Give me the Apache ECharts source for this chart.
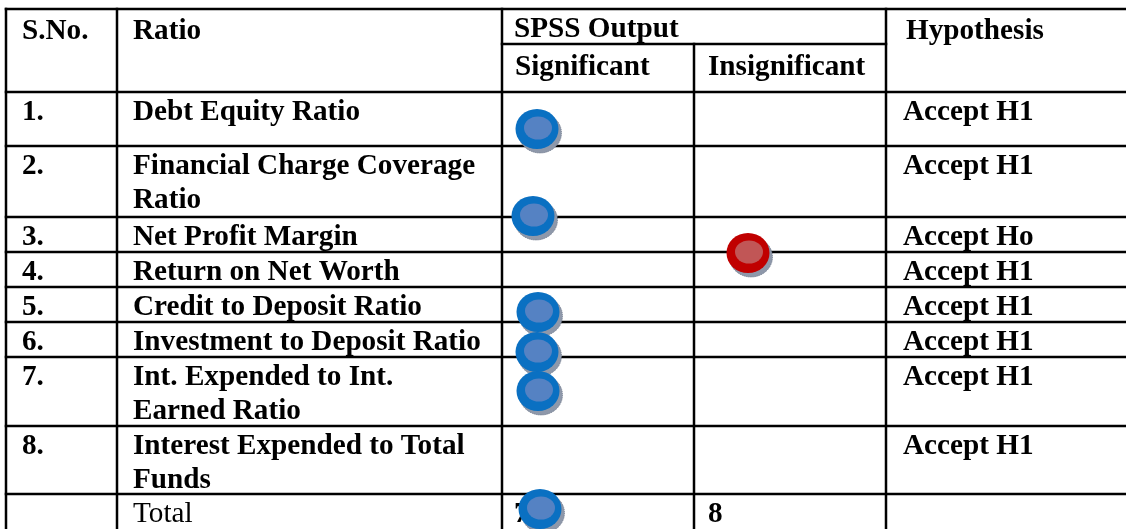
<!DOCTYPE html>
<html lang="en">
<head>
<meta charset="UTF-8">
<title>SPSS Output</title>
<script src="https://cdn.jsdelivr.net/npm/echarts@6/dist/echarts.min.js"></script>
<style>
    html, body { margin: 0; padding: 0; background: #fff; }
    #chart { width: 1126px; height: 529px; }
</style>
</head>
<body>
<div id="chart"></div>
<script>
    // table content
    const serialNos = ['1.', '2.', '3.', '4.', '5.', '6.', '7.', '8.'];
    const ratios = [
        ['Debt Equity Ratio'],
        ['Financial Charge Coverage', 'Ratio'],
        ['Net Profit Margin'],
        ['Return on Net Worth'],
        ['Credit to Deposit Ratio'],
        ['Investment to Deposit Ratio'],
        ['Int. Expended to Int.', 'Earned Ratio'],
        ['Interest Expended to Total', 'Funds']
    ];
    const hypotheses = ['Accept H1', 'Accept H1', 'Accept Ho', 'Accept H1', 'Accept H1', 'Accept H1', 'Accept H1', 'Accept H1'];
    const headers = ['S.No.', 'Ratio', 'SPSS Output', 'Significant', 'Insignificant', 'Hypothesis'];
    const totalRow = ['Total', '7', '8'];

    // circle marks, [x, y] on the page-space axes
    const significantMarks = [[537, 129], [533, 216], [538, 312], [537, 352], [538, 391], [540, 509]];
    const insignificantMarks = [[748, 253]];

    // layout of the grid (page-space units)
    const colEdges = [6, 117, 502, 694, 886, 1126];
    const rowEdges = [9, 92, 146, 217, 252, 287, 322, 357, 426, 494, 529];
    const subHeadY = 44;
    const lineGap = 34;
    const font = '"Liberation Serif", "Times New Roman", serif';

    // grid lines
    const segments = [];
    rowEdges.slice(0, -1).forEach(y => segments.push([colEdges[0], y, colEdges[5], y]));
    segments.push([colEdges[2], subHeadY, colEdges[4], subHeadY]);
    [0, 1, 2, 4].forEach(i => segments.push([colEdges[i], rowEdges[0], colEdges[i], 529]));
    segments.push([colEdges[3], subHeadY, colEdges[3], 529]);

    // text items: [x, y, text, bold]
    const texts = [];
    texts.push([colEdges[0] + 16, 31, headers[0], true]);
    texts.push([colEdges[1] + 16, 31, headers[1], true]);
    texts.push([colEdges[2] + 12, 29, headers[2], true]);
    texts.push([colEdges[2] + 13, 67, headers[3], true]);
    texts.push([colEdges[3] + 14, 67, headers[4], true]);
    texts.push([colEdges[4] + 20, 31, headers[5], true]);
    serialNos.forEach((s, i) => {
        const top = rowEdges[i + 1];
        texts.push([colEdges[0] + 16, top + 20, s, true]);
        ratios[i].forEach((t, k) => texts.push([colEdges[1] + 16, top + 20 + k * lineGap, t, true]));
        texts.push([colEdges[4] + 17, top + 20, hypotheses[i], true]);
    });
    const totalTop = rowEdges[9];
    texts.push([colEdges[1] + 16, totalTop + 20, totalRow[0], false]);
    texts.push([colEdges[2] + 12, totalTop + 20, totalRow[1], true]);
    texts.push([colEdges[3] + 14, totalTop + 20, totalRow[2], true]);

    function ellipse(cx, cy, rx, ry, style) {
        return {type: 'circle', x: cx, y: cy, scaleY: ry / rx, shape: {cx: 0, cy: 0, r: rx}, style: style};
    }

    function markRenderer(outer, inner) {
        return function (params, api) {
            const c = api.coord([api.value(0), api.value(1)]);
            return {
                type: 'group', x: c[0], y: c[1],
                children: [
                    ellipse(3, 4, 21.5, 20, {fill: '#8e98aa', stroke: '#6c7689', lineWidth: 1, lineDash: [1, 1]}),
                    ellipse(0, 0, 21.5, 20, {fill: outer}),
                    ellipse(1, -1, 14, 11.5, {fill: inner})
                ]
            };
        };
    }

    var chart = echarts.init(document.getElementById('chart'));
    chart.setOption({
        backgroundColor: '#fff',
        animation: false,
        grid: {left: 0, right: 0, top: 0, bottom: 0},
        xAxis: {type: 'value', min: 0, max: 1126, show: false},
        yAxis: {type: 'value', min: 0, max: 529, inverse: true, show: false},
        series: [
            {
                type: 'custom', z: 1, silent: true,
                encode: {x: [0, 2], y: [1, 3]},
                data: segments,
                renderItem: function (params, api) {
                    const p1 = api.coord([api.value(0), api.value(1)]);
                    const p2 = api.coord([api.value(2), api.value(3)]);
                    return {
                        type: 'line',
                        shape: {x1: p1[0], y1: p1[1], x2: p2[0], y2: p2[1]},
                        style: {stroke: '#000', lineWidth: 2.5, lineCap: 'square'}
                    };
                }
            },
            {
                type: 'custom', z: 2, silent: true,
                data: texts.map(t => [t[0], t[1]]),
                renderItem: function (params, api) {
                    const p = api.coord([api.value(0), api.value(1)]);
                    const t = texts[params.dataIndex];
                    return {
                        type: 'text', x: p[0], y: p[1],
                        style: {
                            text: t[2], fill: '#000', fontFamily: font, fontSize: 29.2,
                            fontWeight: t[3] ? 'bold' : 'normal', align: 'left', verticalAlign: 'middle'
                        }
                    };
                }
            },
            {
                type: 'custom', z: 3, silent: true,
                data: significantMarks,
                renderItem: markRenderer('#0A70C2', '#5582C3')
            },
            {
                type: 'custom', z: 3, silent: true,
                data: insignificantMarks,
                renderItem: markRenderer('#C00000', '#C15656')
            }
        ]
    });
</script>
</body>
</html>
